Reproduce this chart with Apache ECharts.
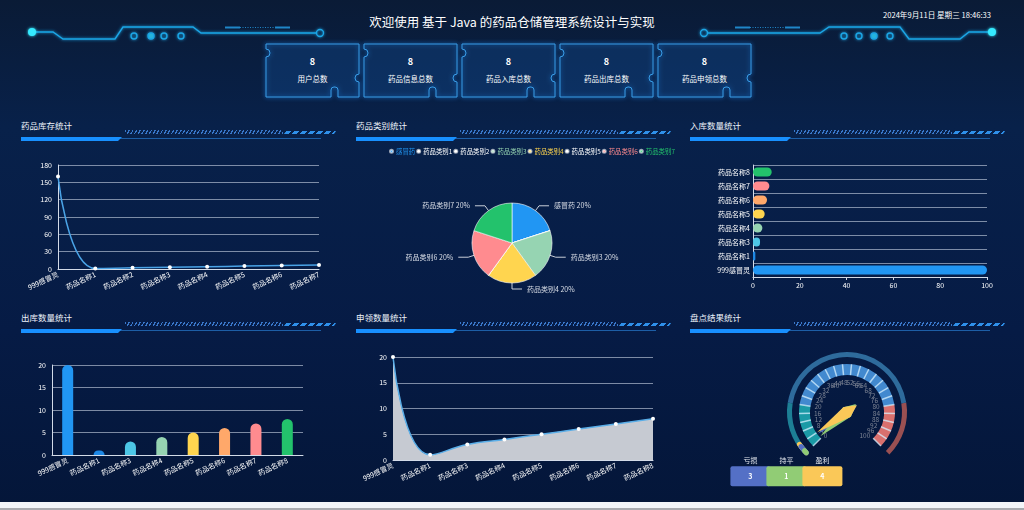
<!DOCTYPE html>
<html>
<head>
<meta charset="utf-8">
<title>药品仓储管理系统</title>
<script src="https://cdn.jsdelivr.net/npm/echarts@6.0.0/dist/echarts.min.js"></script>
<style>
html,body{margin:0;padding:0;width:1024px;height:510px;overflow:hidden;font-family:"Noto Sans CJK SC","Noto Sans",sans-serif;}
body{position:relative;background:linear-gradient(180deg,#0a1b36 0%,#08214a 25%,#061b45 65%,#041639 100%);}
#deco{position:absolute;left:0;top:0;width:1024px;height:60px;}
#main{position:absolute;left:0;top:0;width:1024px;height:502px;}
#foot{position:absolute;left:0;top:502px;width:1024px;height:8px;background:#f3f5f9;border-bottom:2px solid #a9abb0;box-sizing:border-box;}
.title{position:absolute;left:0;top:14px;width:1024px;text-align:center;color:#fff;font-size:12.5px;line-height:16px;}
.date{position:absolute;left:883px;top:10px;color:#fff;font-size:7.6px;line-height:10px;white-space:nowrap;}
.card{position:absolute;width:93px;height:53px;}
.card svg{position:absolute;left:0;top:0;overflow:visible;filter:drop-shadow(0 0 2px #1e8fff);}
.card .num{position:absolute;left:0;top:13px;width:93px;text-align:center;color:#fff;font-size:9px;font-weight:bold;line-height:10px;}
.card .lab{position:absolute;left:0;top:30px;width:93px;text-align:center;color:#fff;font-size:7.5px;line-height:10px;}
.ptitle{position:absolute;color:#eef3fb;font-size:8.5px;line-height:12px;white-space:nowrap;}
.pline{position:absolute;height:1px;width:300px;background:#1d5ea6;}
.pbar{position:absolute;height:4px;width:101px;background:#1890ff;clip-path:polygon(0 0,100% 0,calc(100% - 4px) 100%,0 100%);}
.phatch{position:absolute;height:4px;width:158px;background:repeating-linear-gradient(120deg,rgba(62,128,215,0.9) 0 1.2px,transparent 1.2px 3.2px);}
.pdash{position:absolute;height:3px;width:50px;background:repeating-linear-gradient(90deg,#2f90ea 0 5px,transparent 5px 8px);transform:skewX(-35deg);}
</style>
</head>
<body>
<svg id="deco" width="1024" height="60">
  <defs>
    <filter id="glow" x="-50%" y="-50%" width="200%" height="200%">
      <feGaussianBlur stdDeviation="1.6" result="b"/>
      <feMerge><feMergeNode in="b"/><feMergeNode in="SourceGraphic"/></feMerge>
    </filter>
  </defs>
  <g fill="none" stroke="#1ba6e6" stroke-width="1.4" filter="url(#glow)">
    <path d="M32,32 H53 L63,39 H115 L123,27 H193 L201,33 H316"/>
    <circle cx="320" cy="33" r="3.5"/>
    <path d="M708,33 H820 L829,27 H900 L909,39 H960 L969,32 H992"/>
    <circle cx="704" cy="33" r="3.5"/>
    <circle cx="134" cy="36" r="3"/><circle cx="151" cy="36" r="3" fill="#26b4dc"/><circle cx="164" cy="36" r="3"/><circle cx="181" cy="36" r="3"/>
    <circle cx="844" cy="36" r="3"/><circle cx="859" cy="36" r="3"/><circle cx="874" cy="36" r="3" fill="#26b4dc"/><circle cx="890" cy="36" r="3"/>
  </g>
  <g stroke="#1f86c8" stroke-width="2">
    <line x1="225" y1="27.5" x2="240" y2="27.5"/><line x1="275" y1="27.5" x2="290" y2="27.5"/>
    <line x1="240" y1="27.5" x2="275" y2="27.5" stroke-width="1" stroke-dasharray="1 1.5"/>
    <line x1="735" y1="27.5" x2="750" y2="27.5"/><line x1="785" y1="27.5" x2="800" y2="27.5"/>
    <line x1="750" y1="27.5" x2="785" y2="27.5" stroke-width="1" stroke-dasharray="1 1.5"/>
  </g>
  <circle cx="32" cy="32" r="4" fill="#35eaff" filter="url(#glow)"/>
  <circle cx="992" cy="32" r="4" fill="#35eaff" filter="url(#glow)"/>
</svg>
<div class="title">欢迎使用 基于 Java 的药品仓储管理系统设计与实现</div>
<div class="date">2024年9月11日 星期三 18:46:33</div>
<div id="cards"></div>
<div id="panels"></div>
<div id="main"></div>
<div id="foot"></div>
<script>
// 顶部统计卡片
var statNames = ['用户总数', '药品信息总数', '药品入库总数', '药品出库总数', '药品申领总数'];
var statVals = [8, 8, 8, 8, 8];

// 药品库存统计
var stockCats = ['999感冒灵', '药品名称1', '药品名称2', '药品名称3', '药品名称4', '药品名称5', '药品名称6', '药品名称7'];
var stockVals = [160, 1, 2, 3, 4, 5, 6, 7];

// 药品类别统计
var typeNames = ['感冒药', '药品类别1', '药品类别2', '药品类别3', '药品类别4', '药品类别5', '药品类别6', '药品类别7'];
var typeVals = [1, 0, 0, 1, 1, 0, 1, 1];

// 入库数量统计
var inCats = ['999感冒灵', '药品名称1', '药品名称3', '药品名称4', '药品名称5', '药品名称6', '药品名称7', '药品名称8'];
var inVals = [100, 1, 3, 4, 5, 6, 7, 8];

// 出库数量统计
var outCats = ['999感冒灵', '药品名称1', '药品名称3', '药品名称4', '药品名称5', '药品名称6', '药品名称7', '药品名称8'];
var outVals = [20, 1, 3, 4, 5, 6, 7, 8];

// 申领数量统计
var applyCats = ['999感冒灵', '药品名称1', '药品名称3', '药品名称4', '药品名称5', '药品名称6', '药品名称7', '药品名称8'];
var applyVals = [20, 1, 3, 4, 5, 6, 7, 8];

// 盘点结果统计
var checkNames = ['亏损', '持平', '盈利'];
var checkVals = [3, 1, 4];

var barColors = ['#2196f3', '#1e88e5', '#4dc6e6', '#96d4b2', '#ffd54f', '#ffa86a', '#ff8b8f', '#23c26c'];
var checkColors = ['#5470c6', '#91cc75', '#fac858'];

// 卡片
var cardPath = 'M0,0 H93 V30 A4,4 0 0 0 93,38 V53 H72 V46 A3,3 0 0 0 69,43 H68 A3,3 0 0 0 65,46 V53 H0 V13 A4,4 0 0 0 0,5 Z';
var cardsHtml = '';
statNames.forEach(function (n, i) {
  cardsHtml += '<div class="card" style="left:' + (266 + i * 98) + 'px;top:44px">' +
    '<svg width="93" height="53"><path d="' + cardPath + '" fill="rgba(20,62,115,0.15)" stroke="#3a9ee8" stroke-width="1"/></svg>' +
    '<div class="num">' + statVals[i] + '</div><div class="lab">' + n + '</div></div>';
});
document.getElementById('cards').innerHTML = cardsHtml;

// 面板标题
var panelTitles = ['药品库存统计', '药品类别统计', '入库数量统计', '出库数量统计', '申领数量统计', '盘点结果统计'];
var panelPos = [[21, 125], [356, 125], [690, 125], [21, 317], [356, 317], [690, 317]];
var ph = '';
panelTitles.forEach(function (t, i) {
  var x = panelPos[i][0], y = panelPos[i][1];
  ph += '<div class="ptitle" style="left:' + x + 'px;top:' + (y - 6) + 'px">' + t + '</div>' +
    '<div class="pline" style="left:' + x + 'px;top:' + (y + 13) + 'px"></div>' +
    '<div class="pbar" style="left:' + x + 'px;top:' + (y + 12) + 'px"></div>' +
    '<div class="phatch" style="left:' + (x + 104) + 'px;top:' + (y + 5) + 'px"></div>' +
    '<div class="pdash" style="left:' + (x + 264) + 'px;top:' + (y + 6) + 'px"></div>';
});
document.getElementById('panels').innerHTML = ph;

var myChart = echarts.init(document.getElementById('main'));

var axisLn = {show: true, lineStyle: {color: '#d3dbe8'}};
var splitLn = {show: true, lineStyle: {color: 'rgba(205,215,232,0.6)'}};
var noTick = {show: false};

function colored(vals) {
  return vals.map(function (v, i) {
    return {value: v, itemStyle: {color: barColors[i]}};
  });
}

var option = {
  animation: false,
  textStyle: {fontFamily: 'Noto Sans CJK SC'},
  grid: [
    {left: 58, top: 165, width: 261, height: 104, outerBoundsMode: 'none'},
    {left: 753, top: 165, width: 234, height: 112, outerBoundsMode: 'none'},
    {left: 52, top: 365, width: 251, height: 90, outerBoundsMode: 'none'},
    {left: 393, top: 357, width: 260, height: 103, outerBoundsMode: 'none'}
  ],
  legend: {
    left: 384, top: 143, itemWidth: 3, itemHeight: 3, itemGap: 1, icon: 'circle',
    textStyle: {fontSize: 6.4, padding: [0, 0, 0, -2]},
    data: typeNames.map(function (n, i) {
      var c = typeVals[i] ? barColors[i] : '#fff';
      return {name: n, textStyle: {color: c}, itemStyle: {color: c}};
    })
  },
  xAxis: [
    {gridIndex: 0, type: 'category', boundaryGap: false, data: stockCats, axisLine: axisLn, axisTick: noTick,
      axisLabel: {color: '#fff', fontSize: 7, rotate: 25, interval: 0, margin: 5}},
    {gridIndex: 1, type: 'value', min: 0, max: 100, interval: 20, axisLine: axisLn, splitLine: {show: false},
      axisTick: {show: true, length: 3, lineStyle: {color: '#d3dbe8'}}, axisLabel: {color: '#fff', fontSize: 7, margin: 5}},
    {gridIndex: 2, type: 'category', data: outCats, axisLine: axisLn, axisTick: noTick,
      axisLabel: {color: '#fff', fontSize: 7, rotate: 25, interval: 0, margin: 5}},
    {gridIndex: 3, type: 'category', boundaryGap: false, data: applyCats, axisLine: axisLn, axisTick: noTick,
      axisLabel: {color: '#fff', fontSize: 7, rotate: 25, interval: 0, margin: 5}}
  ],
  yAxis: [
    {gridIndex: 0, type: 'value', min: 0, max: 180, interval: 30, axisLine: axisLn, axisTick: noTick, splitLine: splitLn,
      axisLabel: {color: '#fff', fontSize: 7, margin: 6}},
    {gridIndex: 1, type: 'category', data: inCats, axisLine: axisLn, axisTick: noTick,
      splitLine: {show: true, interval: 0, lineStyle: {color: 'rgba(205,215,232,0.6)'}},
      axisLabel: {color: '#fff', fontSize: 7, margin: 3}},
    {gridIndex: 2, type: 'value', min: 0, max: 20, interval: 5, axisLine: axisLn, axisTick: noTick, splitLine: splitLn,
      axisLabel: {color: '#fff', fontSize: 7, margin: 6}},
    {gridIndex: 3, type: 'value', min: 0, max: 20, interval: 5, axisLine: axisLn, axisTick: noTick, splitLine: splitLn,
      axisLabel: {color: '#fff', fontSize: 7, margin: 6}}
  ],
  series: [
    {
      name: '库存', type: 'line', xAxisIndex: 0, yAxisIndex: 0, smooth: true,
      symbol: 'circle', symbolSize: 4, itemStyle: {color: '#fff'},
      lineStyle: {color: '#4aa3e6', width: 1.5},
      data: stockVals
    },
    {
      name: '类别', type: 'pie', center: [512, 243], radius: 40,
      itemStyle: {borderColor: 'rgba(255,255,255,0.6)', borderWidth: 1},
      label: {formatter: '{b} {d}%', color: '#d8dde6', fontSize: 7},
      labelLine: {length: 6, length2: 10, lineStyle: {color: '#c8ced8'}},
      data: typeNames.map(function (n, i) {
        var d = {name: n, value: typeVals[i], itemStyle: {color: barColors[i]}};
        if (!typeVals[i]) { d.label = {show: false}; d.labelLine = {show: false}; }
        return d;
      })
    },
    {
      name: '入库', type: 'bar', xAxisIndex: 1, yAxisIndex: 1, barWidth: 9,
      itemStyle: {borderRadius: 5}, data: colored(inVals)
    },
    {
      name: '出库', type: 'bar', xAxisIndex: 2, yAxisIndex: 2, barWidth: 11,
      itemStyle: {borderRadius: [6, 6, 0, 0]}, data: colored(outVals)
    },
    {
      name: '申领', type: 'line', xAxisIndex: 3, yAxisIndex: 3, smooth: true,
      symbol: 'circle', symbolSize: 4, itemStyle: {color: '#fff'},
      lineStyle: {color: '#5aaee8', width: 1.5},
      areaStyle: {color: '#c6cad2', opacity: 1},
      data: applyVals
    },
    {
      name: '刻度', type: 'gauge', center: [847, 412], radius: 48, startAngle: 225, endAngle: -45,
      min: 0, max: 100, splitNumber: 25,
      axisLine: {lineStyle: {width: 11, color: [[0.2, '#1b9aa6'], [0.8, '#4289cf'], [1, '#d9706e']]}},
      splitLine: {distance: -11, length: 11, lineStyle: {color: 'rgba(215,240,255,0.75)', width: 1.5}},
      axisTick: {show: false},
      axisLabel: {distance: 15, fontSize: 6.5, color: '#7d8494'},
      pointer: {show: false}, anchor: {show: false}, title: {show: false}, detail: {show: false},
      data: [{value: 0}]
    },
    {
      name: '盘点', type: 'gauge', center: [847, 412], radius: 60, startAngle: 225, endAngle: -45,
      min: 0, max: 100,
      axisLine: {lineStyle: {width: 5, color: [[0.2, '#1d7f95'], [0.8, '#2e6b9c'], [1, '#9a5052']]}},
      progress: {show: true, overlap: true, roundCap: true, width: 5},
      pointer: {width: 6, length: '60%'},
      anchor: {show: true, showAbove: true, size: 9, itemStyle: {color: '#fac858'}},
      splitLine: {show: false}, axisTick: {show: false}, axisLabel: {show: false},
      title: {fontSize: 7, color: '#e4e8ef'},
      detail: {width: 20, height: 10, lineHeight: 10, fontSize: 7, color: '#fff', backgroundColor: 'inherit',
        borderRadius: 2, formatter: '{value}'},
      data: checkNames.map(function (n, i) {
        return {
          name: n, value: checkVals[i], itemStyle: {color: checkColors[i]},
          title: {offsetCenter: [(-161 + i * 60) + '%', '80%']},
          detail: {offsetCenter: [(-161 + i * 60) + '%', '107%']}
        };
      })
    }
  ]
};
myChart.setOption(option);
</script>
</body>
</html>
